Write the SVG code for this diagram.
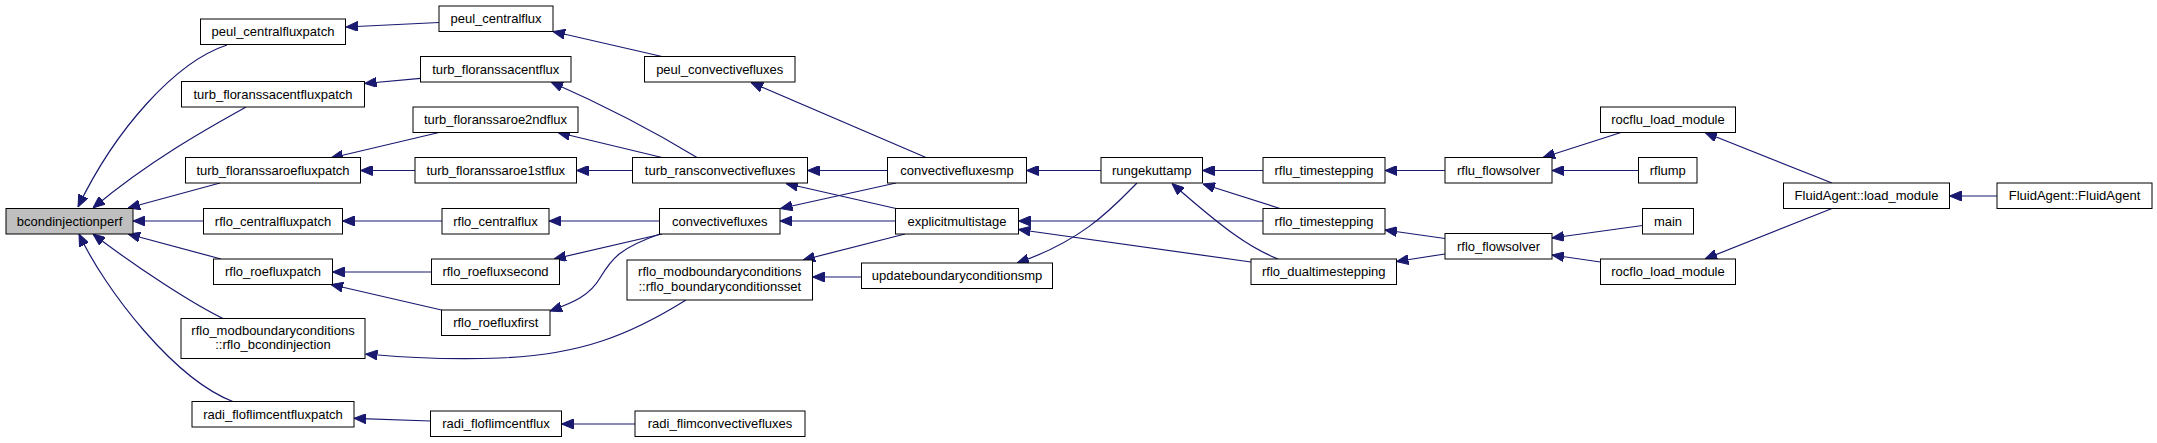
<svg xmlns="http://www.w3.org/2000/svg" width="2157" height="443" viewBox="0 0 2157 443">
<style>
.n rect{fill:#fff;stroke:#000;stroke-width:1}
.n.root rect{fill:#bfbfbf}
.n text{font-family:"Liberation Sans",Arial,Helvetica,sans-serif;font-size:13px;fill:#000;text-anchor:middle}
.e path{fill:none;stroke:#191970;stroke-width:1.2;marker-end:url(#ah)}
</style>
<defs>
<marker id="ah" viewBox="0 0 12 10" refX="12" refY="5" markerWidth="12" markerHeight="10" markerUnits="userSpaceOnUse" orient="auto">
<path d="M0,0 L12,5 L0,10 z" fill="#191970" stroke="#191970" stroke-width="1"/>
</marker>
</defs>
<rect width="2157" height="443" fill="#fff"/>
<g id="edges" class="e">
<path d="M227,45 C175,62 115,130 78,207"/>
<path d="M246,107 C210,127 150,160 93,208"/>
<path d="M220,183 L128,208"/>
<path d="M203.5,221 L133,221"/>
<path d="M221,259 L128,234"/>
<path d="M224,319 C195,305 140,270 93,234"/>
<path d="M234,402 C175,380 105,290 79,234"/>
<path d="M439,22.5 L346,27"/>
<path d="M420.5,78.3 L364.5,83.5"/>
<path d="M439,132.5 L331,158"/>
<path d="M415,170.5 L360.5,170.5"/>
<path d="M442,221 L342.5,221"/>
<path d="M431.5,272 L332.5,272"/>
<path d="M441.5,310 L331,284.5"/>
<path d="M686,300 C630,335 580,355 500,358 C450,360 410,358 365.5,354"/>
<path d="M430.5,421 L354,418.3"/>
<path d="M662,56.5 L553,31.5"/>
<path d="M697,157.5 C660,135 610,108 551,82"/>
<path d="M662,157.5 L558,132.5"/>
<path d="M632.5,170.5 L576.5,170.5"/>
<path d="M659.5,221 L549,221"/>
<path d="M662,234 L554,259"/>
<path d="M660,234 C620,248 612,258 600,278 C590,295 575,302 550,311"/>
<path d="M635,424 L561.5,424"/>
<path d="M926,157.5 L751,82.5"/>
<path d="M887.5,170.5 L807.5,170.5"/>
<path d="M896,183 L780.5,208.5"/>
<path d="M896,208.5 L786,183.5"/>
<path d="M895.5,221 L780,221"/>
<path d="M905,234 L803,260"/>
<path d="M861.5,277 L812.5,277"/>
<path d="M1101,170.5 L1026.5,170.5"/>
<path d="M1263,221 L1018.5,221"/>
<path d="M1251,262 L1018.5,229.5"/>
<path d="M1137,183 C1115,205 1085,240 1017,263"/>
<path d="M1263,170.5 L1202.5,170.5"/>
<path d="M1280,208.5 L1203,184"/>
<path d="M1278,259 C1250,248 1225,230 1172,183.5"/>
<path d="M1445,170.5 L1385,170.5"/>
<path d="M1445,238.5 L1385,230"/>
<path d="M1445,254 L1396.5,261.5"/>
<path d="M1621,132.5 L1543,157.5"/>
<path d="M1638.5,170.5 L1552,170.5"/>
<path d="M1642.5,225.5 L1552,238"/>
<path d="M1600.5,262 L1552,255"/>
<path d="M1832,183 L1705,132.5"/>
<path d="M1832,208.5 L1705,259"/>
<path d="M1997,196 L1949.5,196"/>
</g>
<g id="bcondinjectionperf" class="n root"><rect x="6" y="208.5" width="127" height="25.5"/><text x="69.5" y="225.5">bcondinjectionperf</text></g>
<g id="peul_centralfluxpatch" class="n"><rect x="200.5" y="19" width="145" height="25.5"/><text x="273" y="36">peul_centralfluxpatch</text></g>
<g id="turb_floranssacentfluxpatch" class="n"><rect x="181.5" y="81.5" width="183" height="25.5"/><text x="273" y="98.5">turb_floranssacentfluxpatch</text></g>
<g id="turb_floranssaroefluxpatch" class="n"><rect x="185.5" y="157.5" width="175" height="25.5"/><text x="273" y="174.5">turb_floranssaroefluxpatch</text></g>
<g id="rflo_centralfluxpatch" class="n"><rect x="203.5" y="208.5" width="139" height="25.5"/><text x="273" y="225.5">rflo_centralfluxpatch</text></g>
<g id="rflo_roefluxpatch" class="n"><rect x="213.5" y="259" width="119" height="25.5"/><text x="273" y="276">rflo_roefluxpatch</text></g>
<g id="rflo_bcondinjection" class="n"><rect x="181" y="318.5" width="184" height="40"/><text x="273" y="334.5">rflo_modboundaryconditions</text><text x="273" y="349">::rflo_bcondinjection</text></g>
<g id="radi_floflimcentfluxpatch" class="n"><rect x="192" y="401.5" width="162" height="25.5"/><text x="273" y="418.5">radi_floflimcentfluxpatch</text></g>
<g id="peul_centralflux" class="n"><rect x="439" y="6" width="114" height="25.5"/><text x="496" y="23">peul_centralflux</text></g>
<g id="turb_floranssacentflux" class="n"><rect x="420.5" y="56.5" width="150.5" height="25.5"/><text x="495.75" y="73.5">turb_floranssacentflux</text></g>
<g id="turb_floranssaroe2ndflux" class="n"><rect x="413" y="107" width="165" height="25.5"/><text x="495.5" y="124">turb_floranssaroe2ndflux</text></g>
<g id="turb_floranssaroe1stflux" class="n"><rect x="415" y="157.5" width="161.5" height="25.5"/><text x="495.75" y="174.5">turb_floranssaroe1stflux</text></g>
<g id="rflo_centralflux" class="n"><rect x="442" y="208.5" width="107" height="25.5"/><text x="495.5" y="225.5">rflo_centralflux</text></g>
<g id="rflo_roefluxsecond" class="n"><rect x="431.5" y="259" width="128" height="25.5"/><text x="495.5" y="276">rflo_roefluxsecond</text></g>
<g id="rflo_roefluxfirst" class="n"><rect x="441.5" y="310" width="108.5" height="25.5"/><text x="495.75" y="327">rflo_roefluxfirst</text></g>
<g id="radi_floflimcentflux" class="n"><rect x="430.5" y="411" width="131" height="25.5"/><text x="496" y="428">radi_floflimcentflux</text></g>
<g id="peul_convectivefluxes" class="n"><rect x="644.5" y="56.5" width="150.5" height="25.5"/><text x="719.75" y="73.5">peul_convectivefluxes</text></g>
<g id="turb_ransconvectivefluxes" class="n"><rect x="632.5" y="157.5" width="175" height="25.5"/><text x="720" y="174.5">turb_ransconvectivefluxes</text></g>
<g id="convectivefluxes" class="n"><rect x="659.5" y="208.5" width="120.5" height="25.5"/><text x="719.75" y="225.5">convectivefluxes</text></g>
<g id="rflo_boundaryconditionsset" class="n"><rect x="627" y="260" width="185.5" height="40"/><text x="719.75" y="276">rflo_modboundaryconditions</text><text x="719.75" y="290.5">::rflo_boundaryconditionsset</text></g>
<g id="radi_flimconvectivefluxes" class="n"><rect x="635" y="411" width="170" height="25.5"/><text x="720" y="428">radi_flimconvectivefluxes</text></g>
<g id="convectivefluxesmp" class="n"><rect x="887.5" y="157.5" width="139" height="25.5"/><text x="957" y="174.5">convectivefluxesmp</text></g>
<g id="explicitmultistage" class="n"><rect x="895.5" y="208.5" width="123" height="25.5"/><text x="957" y="225.5">explicitmultistage</text></g>
<g id="updateboundaryconditionsmp" class="n"><rect x="861.5" y="263" width="191" height="25.5"/><text x="957" y="280">updateboundaryconditionsmp</text></g>
<g id="rungekuttamp" class="n"><rect x="1101" y="157.5" width="101.5" height="25.5"/><text x="1151.75" y="174.5">rungekuttamp</text></g>
<g id="rflu_timestepping" class="n"><rect x="1263" y="157.5" width="122" height="25.5"/><text x="1324" y="174.5">rflu_timestepping</text></g>
<g id="rflo_timestepping" class="n"><rect x="1263" y="208.5" width="122" height="25.5"/><text x="1324" y="225.5">rflo_timestepping</text></g>
<g id="rflo_dualtimestepping" class="n"><rect x="1251" y="259" width="145.5" height="25.5"/><text x="1323.75" y="276">rflo_dualtimestepping</text></g>
<g id="rflu_flowsolver" class="n"><rect x="1445" y="157.5" width="107" height="25.5"/><text x="1498.5" y="174.5">rflu_flowsolver</text></g>
<g id="rflo_flowsolver" class="n"><rect x="1445" y="233.5" width="107" height="25.5"/><text x="1498.5" y="250.5">rflo_flowsolver</text></g>
<g id="rocflu_load_module" class="n"><rect x="1600.5" y="107" width="135" height="25.5"/><text x="1668" y="124">rocflu_load_module</text></g>
<g id="rflump" class="n"><rect x="1638.5" y="157.5" width="58.5" height="25.5"/><text x="1667.75" y="174.5">rflump</text></g>
<g id="main" class="n"><rect x="1642.5" y="208.5" width="51" height="25.5"/><text x="1668" y="225.5">main</text></g>
<g id="rocflo_load_module" class="n"><rect x="1600.5" y="259" width="135" height="25.5"/><text x="1668" y="276">rocflo_load_module</text></g>
<g id="FluidAgent_load_module" class="n"><rect x="1783.5" y="183" width="166" height="25.5"/><text x="1866.5" y="200">FluidAgent::load_module</text></g>
<g id="FluidAgent_FluidAgent" class="n"><rect x="1997" y="183" width="155" height="25.5"/><text x="2074.5" y="200">FluidAgent::FluidAgent</text></g>
</svg>
